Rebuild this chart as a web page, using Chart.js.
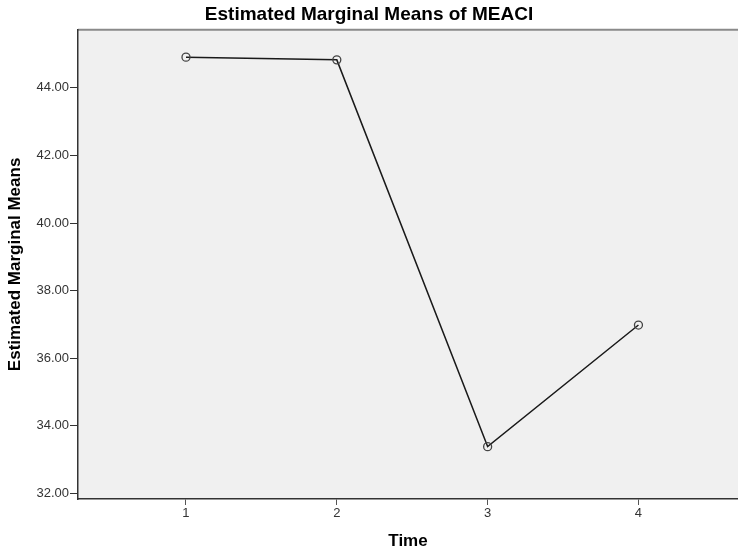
<!DOCTYPE html>
<html>
<head>
<meta charset="utf-8">
<script src="https://cdn.jsdelivr.net/npm/chart.js@4"></script>
<style>
  body { margin: 0; background: #ffffff; }
  #wrap { width: 738px; height: 552px; }
</style>
</head>
<body>
<div id="wrap"><canvas id="meansChart"></canvas></div>
<script>
// Data
var timePoints = [1, 2, 3, 4];
var meanValues = [44.91, 44.83, 33.38, 36.98];
var yTickValues = [32, 34, 36, 38, 40, 42, 44];

var FONT = "'Liberation Sans', Arial, sans-serif";

// grey plot background + top border
const plotBackground = {
    id: "plotBackground",
    beforeDraw(chart) {
        const ctx = chart.ctx;
        const a = chart.chartArea;
        ctx.save();
        ctx.fillStyle = "#f0f0f0";
        ctx.fillRect(a.left, a.top, a.right - a.left, a.bottom - a.top);
        ctx.strokeStyle = "#8a8a8a";
        ctx.lineWidth = 2;
        ctx.beginPath();
        ctx.moveTo(a.left, a.top);
        ctx.lineTo(a.right, a.top);
        ctx.stroke();
        ctx.restore();
    }
};

var points = [];
for (var i = 0; i < timePoints.length; i++) {
    points.push({ x: timePoints[i], y: meanValues[i] });
}

new Chart("meansChart", {
    type: "line",
    data: {
        datasets: [{
            data: points,
            borderColor: "#1a1a1a",
            borderWidth: 1.5,
            pointRadius: 4,
            pointHoverRadius: 4,
            pointBorderColor: "#444444",
            pointBorderWidth: 1.3,
            pointBackgroundColor: "rgba(0,0,0,0)",
            tension: 0,
            fill: false
        }]
    },
    options: {
        responsive: true,
        maintainAspectRatio: false,
        animation: false,
        layout: { autoPadding: false, padding: { left: 0, right: 0, top: 0, bottom: 0 } },
        plugins: {
            legend: { display: false },
            tooltip: { enabled: false },
            title: {
                display: true,
                text: "Estimated Marginal Means of MEACI",
                color: "#000000",
                font: { family: FONT, size: 19, weight: "bold" },
                padding: { top: 3, bottom: 4 }
            }
        },
        scales: {
            x: {
                type: "linear",
                min: 0.284,
                max: 4.66,
                afterBuildTicks: function (scale) {
                    scale.ticks = timePoints.map(function (v) { return { value: v }; });
                },
                afterFit: function (scale) {
                    scale.height = 53;
                    scale.paddingLeft = 0;
                    scale.paddingRight = 0;
                },
                ticks: {
                    color: "#333333",
                    font: { family: FONT, size: 13 },
                    padding: 1,
                    maxRotation: 0,
                    callback: function (v) { return String(v); }
                },
                grid: { display: true, drawOnChartArea: false, drawTicks: true, tickLength: 6, color: "#555555" },
                border: { display: true, color: "#333333", width: 1.5 },
                title: {
                    display: true,
                    text: "Time",
                    color: "#000000",
                    font: { family: FONT, size: 17, weight: "bold" },
                    padding: { top: 8, bottom: 0 }
                }
            },
            y: {
                type: "linear",
                min: 31.83,
                max: 45.72,
                afterBuildTicks: function (scale) {
                    scale.ticks = yTickValues.map(function (v) { return { value: v }; });
                },
                afterFit: function (scale) {
                    scale.width = 78;
                    scale.paddingTop = 0;
                    scale.paddingBottom = 0;
                },
                ticks: {
                    color: "#333333",
                    font: { family: FONT, size: 13 },
                    padding: 1,
                    callback: function (v) { return Number(v).toFixed(2); }
                },
                grid: { display: true, drawOnChartArea: false, drawTicks: true, tickLength: 8, color: "#333333" },
                border: { display: true, color: "#333333", width: 1.5 },
                title: {
                    display: true,
                    text: "Estimated Marginal Means",
                    color: "#000000",
                    font: { family: FONT, size: 17, weight: "bold" },
                    padding: { top: 5, bottom: 5 }
                }
            }
        }
    },
    plugins: [plotBackground]
});
</script>
</body>
</html>
